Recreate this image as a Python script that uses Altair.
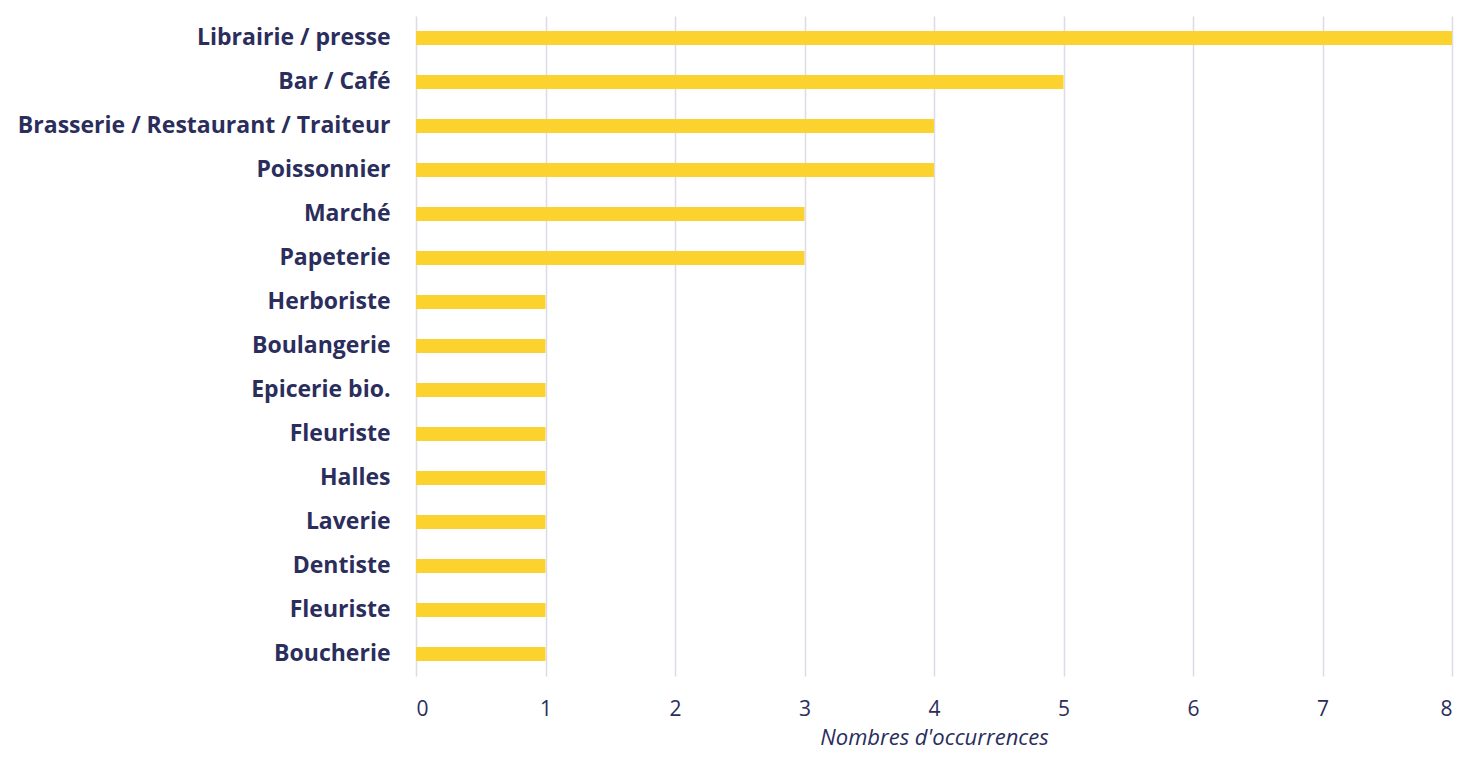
import altair as alt
import pandas as pd
import json

categories = ["Librairie / presse", "Bar / Café", "Brasserie / Restaurant / Traiteur",
              "Poissonnier", "Marché", "Papeterie", "Herboriste", "Boulangerie",
              "Epicerie bio.", "Fleuriste", "Halles", "Laverie", "Dentiste",
              "Fleuriste", "Boucherie"]
values = [8, 5, 4, 4, 3, 3, 1, 1, 1, 1, 1, 1, 1, 1, 1]

df = pd.DataFrame({
    "key": [f"{i:02d}" for i in range(len(categories))],
    "label": categories,
    "value": values,
})

label_expr = json.dumps(categories) + "[toNumber(datum.value)]"

text_color = "#2b2d5c"
font = "Open Sans"

chart = alt.Chart(df).mark_bar(color="#FBD22E").encode(
    x=alt.X("value:Q",
            scale=alt.Scale(domain=[0, 8], nice=False),
            axis=alt.Axis(values=list(range(9)), title="Nombres d'occurrences",
                          titleFontStyle="italic", titleFont=font, titleFontSize=22,
                          titleFontWeight="normal", titleColor=text_color, titlePadding=8,
                          labelFont=font, labelFontSize=21, labelColor=text_color,
                          labelPadding=22, domain=False, ticks=False,
                          grid=True, gridColor="#dcdce8", gridWidth=1.5)),
    y=alt.Y("key:N", sort=None,
            scale=alt.Scale(paddingInner=0.68, paddingOuter=0.34),
            axis=alt.Axis(title=None, labelExpr=label_expr, labelFont=font,
                          labelFontSize=23, labelFontWeight="bold", labelColor=text_color,
                          labelPadding=26, domain=False, ticks=False, grid=False,
                          labelLimit=500)),
    tooltip=["label", "value"],
).properties(
    width=1036, height=660,
    autosize=alt.AutoSizeParams(type="none"),
    padding={"left": 408, "top": 8, "right": 7, "bottom": 74},
).configure_view(stroke=None)

chart.save("out.html", embed_options={"renderer": "svg", "actions": False})
